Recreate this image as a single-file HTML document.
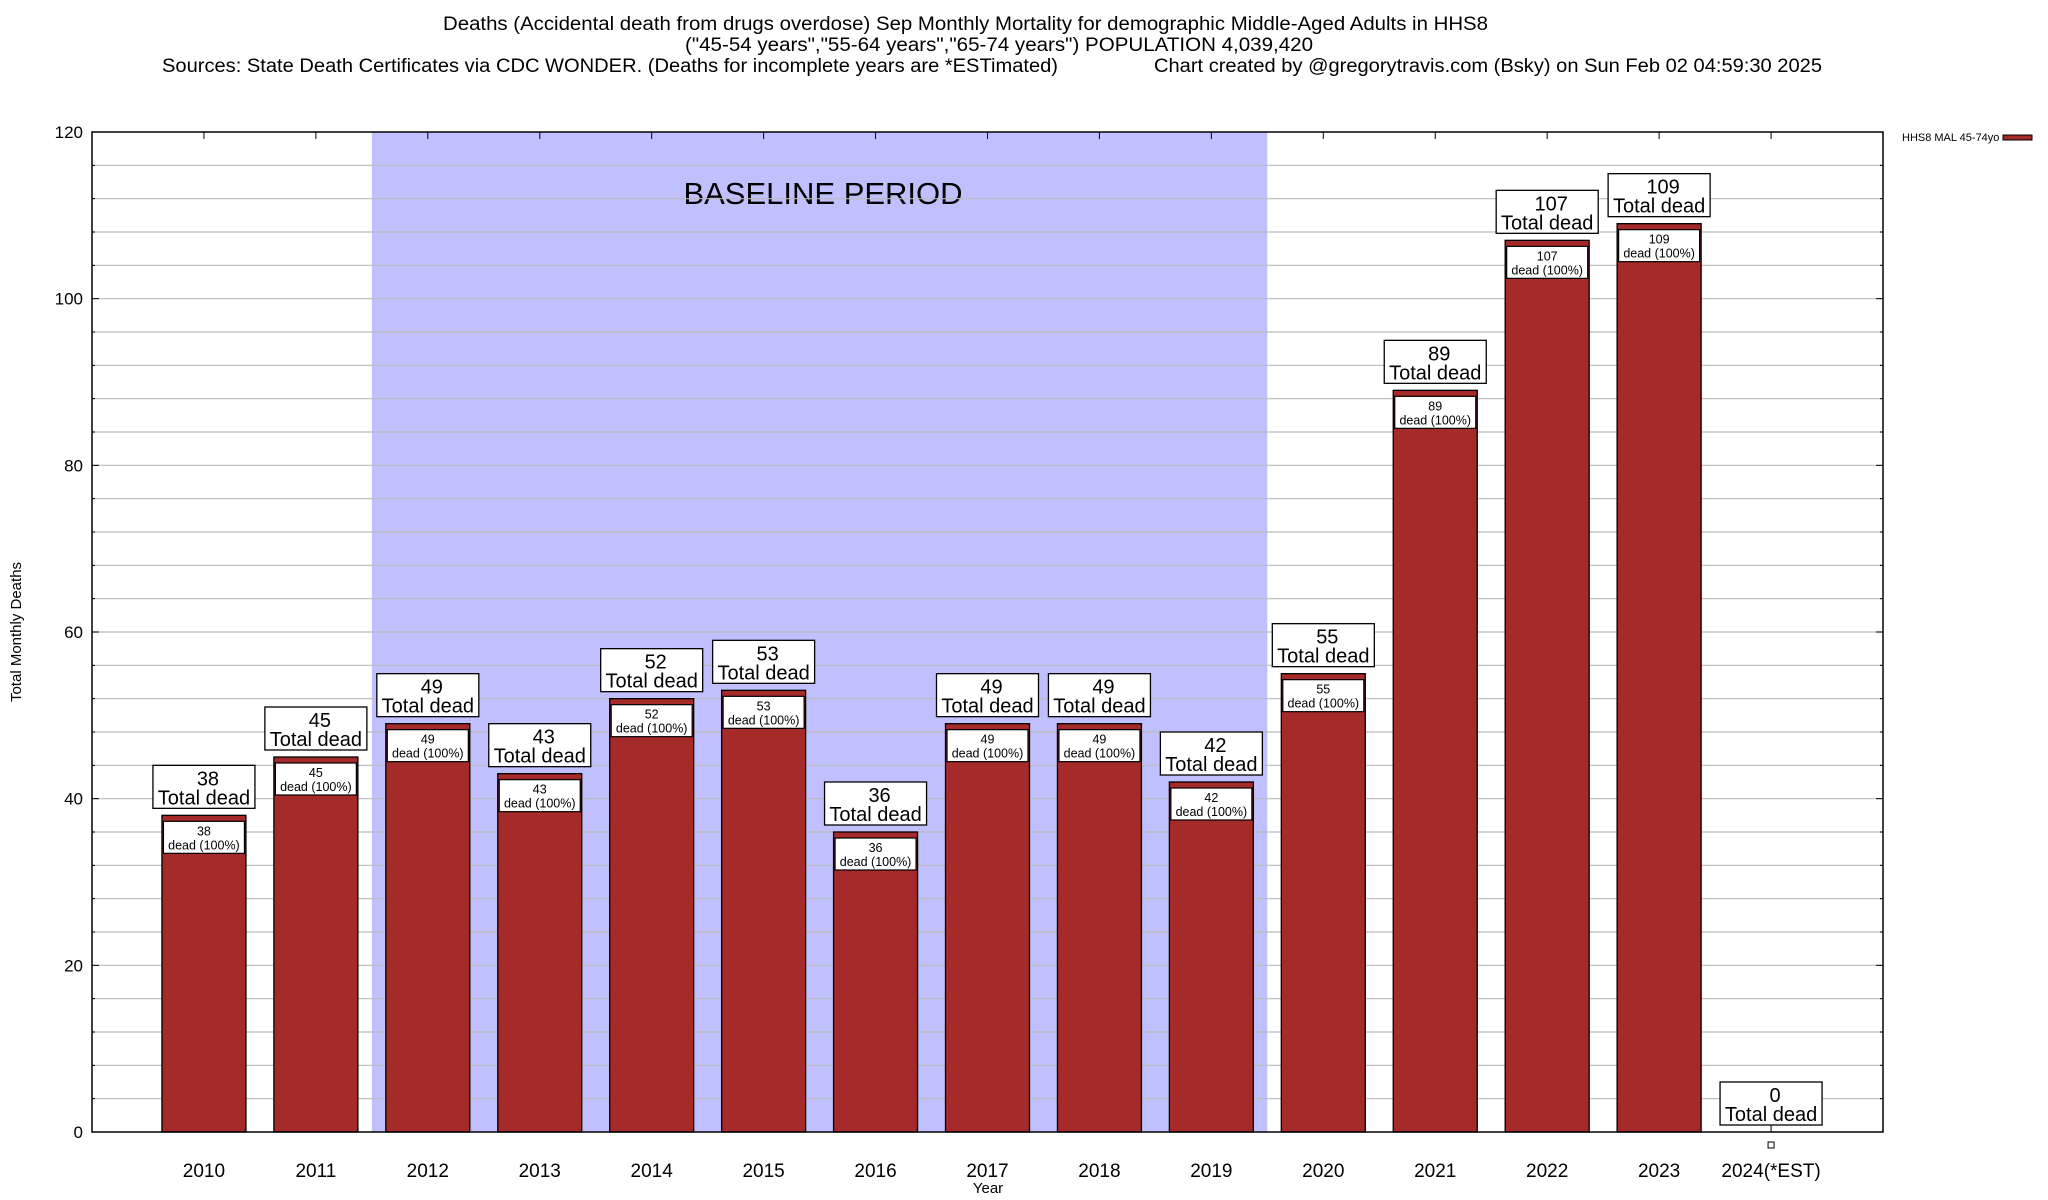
<!DOCTYPE html>
<html><head><meta charset="utf-8">
<style>
body{margin:0;background:#fff;}
svg{display:block;font-family:"Liberation Sans",sans-serif;}
</style></head>
<body>
<svg id="chart" width="2048" height="1200" viewBox="0 0 2048 1200" xmlns="http://www.w3.org/2000/svg">
<g font-size="19" fill="#000">
<text x="443" y="30" textLength="1045" lengthAdjust="spacingAndGlyphs">Deaths (Accidental death from drugs overdose) Sep Monthly Mortality for demographic Middle-Aged Adults in HHS8</text>
<text x="685" y="51" textLength="628" lengthAdjust="spacingAndGlyphs">("45-54 years","55-64 years","65-74 years") POPULATION 4,039,420</text>
<text x="162" y="72" textLength="896" lengthAdjust="spacingAndGlyphs">Sources: State Death Certificates via CDC WONDER. (Deaths for incomplete years are *ESTimated)</text>
<text x="1154" y="72" textLength="668" lengthAdjust="spacingAndGlyphs">Chart created by @gregorytravis.com (Bsky) on Sun Feb 02 04:59:30 2025</text>
</g>
<g id="plot"></g>
<text x="988" y="1193" text-anchor="middle" font-size="15">Year</text>
<text transform="translate(21,632) rotate(-90)" text-anchor="middle" font-size="15">Total Monthly Deaths</text>
<g>
<text x="1902" y="141" font-size="11">HHS8 MAL 45-74yo</text>
<rect x="2003" y="135" width="29" height="5" fill="#a52a2a" stroke="#000" stroke-width="1"/>
</g>
</svg>
<script>
const categories = ["2010","2011","2012","2013","2014","2015","2016","2017","2018","2019","2020","2021","2022","2023","2024(*EST)"];
const deaths = [38,45,49,43,52,53,36,49,49,42,55,89,107,109,0];
const yTicks = [0,20,40,60,80,100,120];
const baselineStart = 1.5, baselineEnd = 9.5;

const L=92,R=1883,T=132,B=1132,yMax=120;
const xs = i => L + (i+1)*(R-L)/16;
const ys = v => B - v*(B-T)/yMax;
const NS="http://www.w3.org/2000/svg";
const plot=document.getElementById('plot');
function mk(tag,attrs,parent){const e=document.createElementNS(NS,tag);for(const k in attrs)e.setAttribute(k,attrs[k]);(parent||plot).appendChild(e);return e;}

const sh=mk('rect',{x:xs(baselineStart),y:T,width:xs(baselineEnd)-xs(baselineStart),height:B-T,fill:'#c0c0ff'});


const bt=mk('text',{x:823,y:204,'text-anchor':'middle','font-size':'31'});
bt.textContent='BASELINE PERIOD';



for(let v=4;v<yMax;v+=4){
  const g=mk('line',{x1:L,x2:R,y1:ys(v),y2:ys(v),stroke:'#bbb','stroke-width':1.2});
  
  
  const major=v%20===0, len=major?7:3;
  mk('line',{x1:L,x2:L+len,y1:ys(v),y2:ys(v),stroke:'#000'});
  mk('line',{x1:R,x2:R-len,y1:ys(v),y2:ys(v),stroke:'#000'});
}
yTicks.forEach(v=>{
  const t=mk('text',{x:83,y:ys(v)+6,'text-anchor':'end','font-size':'17'});
  t.textContent=v;
  
  
});

categories.forEach((c,i)=>{
  const cx=xs(i), v=deaths[i], top=ys(v);
  mk('line',{x1:cx,x2:cx,y1:T,y2:T+7,stroke:'#000'});
  mk('line',{x1:cx,x2:cx,y1:B,y2:B-7,stroke:'#000'});
  if(v>0){
    const b=mk('rect',{x:cx-42,y:top,width:84,height:B-top,fill:'#a52a2a',stroke:'#000','stroke-width':1.3});
    
    
    const ib=mk('rect',{x:cx-40.5,y:top+6,width:81,height:32,fill:'#fff',stroke:'#000','stroke-width':1.2});
    
    
    const t1=mk('text',{x:cx,y:top+20,'text-anchor':'middle','font-size':'12.5'});
    t1.textContent=v;
    
    
    const t2=mk('text',{x:cx,y:top+34,'text-anchor':'middle','font-size':'12.5'});
    t2.textContent='dead (100%)';
    
    
  } else {
    const m=mk('rect',{x:cx-3,y:B+10,width:6,height:6,fill:'#fff',stroke:'#000','stroke-width':1});
    
    
  }
  const ob=mk('rect',{x:cx-51,y:top-50,width:102,height:43,fill:'#fff',stroke:'#000','stroke-width':1.3});
  
  
  const o1=mk('text',{x:cx+4,y:top-30,'text-anchor':'middle','font-size':'20'});
  o1.textContent=v;
  
  
  const o2=mk('text',{x:cx,y:top-11,'text-anchor':'middle','font-size':'20'});
  o2.textContent='Total dead';
  
  
  const xl=mk('text',{x:cx,y:1177,'text-anchor':'middle','font-size':'19'});
  xl.textContent=c;
  
  
});

const fr=mk('rect',{x:L,y:T,width:R-L,height:B-T,fill:'none',stroke:'#000','stroke-width':1.5});


</script>
</body></html>
